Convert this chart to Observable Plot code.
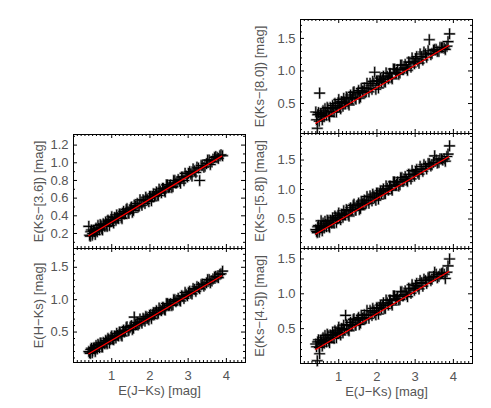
<!DOCTYPE html>
<html><head><meta charset="utf-8">
<script src="https://cdn.jsdelivr.net/npm/d3@7"></script>
<script src="https://cdn.jsdelivr.net/npm/@observablehq/plot@0.6"></script>
<style>
body{margin:0;background:#fff;}
#chart{position:relative;width:491px;height:408px;overflow:hidden;}
.panel{position:absolute;}
</style></head><body><div id="chart"></div>
<script>
// E(J-Ks) shared by all panels (one value per star)
const ejks = [0.40,0.44,0.47,0.50,0.54,0.57,0.61,0.64,0.68,0.72,0.76,0.80,0.84,0.88,0.92,0.96,1.00,1.05,1.09,1.13,1.18,1.22,1.27,1.31,1.36,1.40,1.45,1.50,1.54,1.59,1.64,1.69,1.74,1.79,1.84,1.89,1.94,1.99,2.04,2.09,2.14,2.19,2.24,2.30,2.35,2.40,2.46,2.51,2.57,2.62,2.68,2.74,2.80,2.86,2.92,2.98,3.04,3.10,3.17,3.23,3.30,3.37,3.44,3.51,3.58,3.65,3.72,3.79,3.86,3.90,
  0.42,0.45,0.49,0.52,0.55,0.59,0.62,0.66,0.70,0.74,0.78,0.82,0.86,0.90,0.94,0.98,1.02,1.07,1.11,1.15,1.20,1.25,1.29,1.33,1.38,1.43,1.48,1.52,1.57,1.62,1.67,1.72,1.77,1.82,1.87,1.92,1.97,2.02,2.07,2.12,2.17,2.22,2.27,2.33,2.38,2.43,2.49,2.54,2.60,2.65,2.71,2.77,2.83,2.89,2.95,3.01,3.07,3.13,3.20,3.27,3.34,3.41,3.48,3.55,3.62,3.69,3.76,3.83];
const eKs36 = [0.28,0.17,0.24,0.20,0.24,0.19,0.24,0.29,0.24,0.29,0.24,0.30,0.33,0.28,0.34,0.33,0.39,0.32,0.38,0.41,0.37,0.42,0.37,0.45,0.43,0.48,0.43,0.49,0.44,0.52,0.51,0.50,0.58,0.52,0.57,0.61,0.58,0.62,0.57,0.65,0.64,0.63,0.70,0.66,0.71,0.67,0.75,0.73,0.72,0.80,0.77,0.81,0.77,0.84,0.88,0.84,0.90,0.85,0.91,0.95,0.80,0.97,0.96,1.03,0.98,1.04,1.07,1.05,1.09,1.08,
  0.18,0.22,0.18,0.23,0.22,0.26,0.22,0.26,0.30,0.25,0.31,0.28,0.31,0.35,0.29,0.36,0.34,0.38,0.35,0.38,0.42,0.38,0.43,0.42,0.47,0.43,0.47,0.50,0.46,0.51,0.54,0.51,0.54,0.58,0.54,0.59,0.56,0.62,0.62,0.62,0.67,0.63,0.68,0.71,0.68,0.75,0.72,0.75,0.73,0.80,0.78,0.79,0.84,0.80,0.85,0.88,0.87,0.93,0.89,0.94,0.97,0.95,0.99,1.03,1.01,1.06,1.06,1.08];
const eHKs = [0.20,0.17,0.25,0.21,0.26,0.20,0.26,0.31,0.26,0.33,0.27,0.33,0.37,0.32,0.39,0.38,0.44,0.38,0.44,0.48,0.44,0.50,0.44,0.53,0.52,0.58,0.53,0.59,0.54,0.73,0.62,0.61,0.70,0.64,0.70,0.74,0.71,0.76,0.71,0.80,0.80,0.78,0.87,0.83,0.88,0.84,0.94,0.92,0.91,1.00,0.97,1.02,0.98,1.05,1.11,1.06,1.13,1.09,1.16,1.20,1.17,1.24,1.23,1.31,1.26,1.32,1.36,1.34,1.40,1.44,
  0.18,0.23,0.18,0.25,0.24,0.29,0.24,0.29,0.33,0.27,0.34,0.32,0.35,0.40,0.33,0.42,0.39,0.44,0.41,0.45,0.50,0.45,0.51,0.50,0.57,0.52,0.57,0.60,0.56,0.61,0.65,0.63,0.66,0.71,0.67,0.73,0.69,0.77,0.77,0.77,0.83,0.79,0.84,0.88,0.85,0.94,0.91,0.94,0.92,1.00,0.99,0.99,1.06,1.02,1.08,1.11,1.10,1.17,1.13,1.19,1.23,1.21,1.26,1.31,1.29,1.35,1.35,1.39];
const eKs80 = [0.37,0.12,0.36,0.66,0.35,0.25,0.34,0.42,0.32,0.42,0.30,0.42,0.47,0.37,0.47,0.44,0.56,0.42,0.52,0.58,0.50,0.59,0.48,0.63,0.59,0.68,0.57,0.67,0.58,0.73,0.69,0.67,0.81,0.68,0.78,0.84,0.98,0.85,0.74,0.89,0.87,0.83,0.97,0.88,0.96,0.88,1.03,0.98,0.95,1.09,1.02,1.10,1.01,1.13,1.20,1.11,1.22,1.12,1.22,1.29,1.21,1.48,1.27,1.33,1.30,1.36,1.36,1.33,1.45,1.57,
  0.25,0.33,0.23,0.34,0.31,0.39,0.30,0.37,0.44,0.32,0.44,0.38,0.43,0.50,0.37,0.51,0.45,0.53,0.46,0.52,0.60,0.50,0.59,0.57,0.67,0.58,0.65,0.70,0.60,0.69,0.74,0.68,0.73,0.81,0.72,0.81,0.72,0.85,0.84,0.83,0.92,0.83,0.92,0.96,0.90,1.03,0.97,1.02,0.97,1.09,1.05,1.04,1.14,1.06,1.14,1.19,1.15,1.26,1.17,1.26,1.31,1.25,1.32,1.33,1.30,1.36,1.35,1.38];
const eKs58 = [0.32,0.27,0.39,0.32,0.47,0.30,0.39,0.46,0.37,0.47,0.36,0.47,0.52,0.43,0.53,0.50,0.60,0.49,0.58,0.64,0.57,0.65,0.55,0.69,0.66,0.75,0.65,0.74,0.66,0.80,0.77,0.75,0.88,0.77,0.86,0.92,0.86,0.94,0.84,0.98,0.97,0.93,1.06,0.99,1.06,0.99,1.13,1.09,1.06,1.20,1.14,1.22,1.14,1.25,1.32,1.23,1.34,1.26,1.35,1.42,1.35,1.44,1.42,1.57,1.45,1.52,1.50,1.48,1.60,1.74,
  0.29,0.37,0.28,0.38,0.36,0.43,0.35,0.41,0.48,0.38,0.48,0.43,0.48,0.55,0.44,0.56,0.52,0.58,0.53,0.58,0.66,0.57,0.66,0.64,0.73,0.65,0.72,0.77,0.68,0.76,0.82,0.77,0.81,0.89,0.81,0.89,0.82,0.94,0.93,0.93,1.01,0.93,1.02,1.06,1.01,1.13,1.07,1.13,1.08,1.20,1.17,1.16,1.26,1.18,1.26,1.31,1.28,1.39,1.31,1.39,1.44,1.40,1.46,1.50,1.46,1.52,1.52,1.56];
const eKs45 = [0.28,0.04,0.34,0.14,0.34,0.25,0.33,0.40,0.31,0.40,0.30,0.40,0.45,0.36,0.45,0.43,0.52,0.41,0.50,0.55,0.69,0.55,0.47,0.59,0.56,0.64,0.55,0.64,0.56,0.69,0.66,0.64,0.76,0.65,0.74,0.79,0.73,0.80,0.71,0.84,0.83,0.79,0.91,0.84,0.91,0.84,0.97,0.93,0.91,1.03,0.97,1.04,0.96,1.07,1.13,1.05,1.15,1.07,1.16,1.21,1.15,1.24,1.21,1.31,1.23,1.28,1.30,1.22,1.40,1.50,
  0.24,0.31,0.23,0.32,0.30,0.37,0.29,0.35,0.42,0.32,0.41,0.37,0.41,0.47,0.37,0.48,0.44,0.50,0.44,0.49,0.56,0.48,0.56,0.54,0.63,0.55,0.62,0.66,0.58,0.65,0.70,0.65,0.69,0.76,0.69,0.76,0.70,0.80,0.80,0.79,0.87,0.79,0.87,0.91,0.86,0.97,0.92,0.96,0.92,1.03,0.99,0.99,1.08,1.01,1.08,1.12,1.10,1.19,1.11,1.19,1.23,1.19,1.25,1.28,1.25,1.29,1.28,1.31];
// fitted lines (end points)
const fitX = [0.40, 3.88];
const fitKs36 = [0.174, 1.075];
const fitHKs = [0.166, 1.37];
const fitKs80 = [0.198, 1.39];
const fitKs58 = [0.245, 1.556];
const fitKs45 = [0.20, 1.32];
// axes
const xTicks = [1, 2, 3, 4];
const yTicksKs36 = [0.2, 0.4, 0.6, 0.8, 1.0, 1.2];
const yTicksHalf = [0.5, 1.0, 1.5];
const xLabel = "E(J\u2212Ks) [mag]";
const yLabels = ["E(Ks\u2212[3.6]) [mag]", "E(H\u2212Ks) [mag]", "E(Ks\u2212[8.0]) [mag]", "E(Ks\u2212[5.8]) [mag]", "E(Ks\u2212[4.5]) [mag]"];

const panels = [
  {left:73, top:134, h:114, y:eKs36, fit:fitKs36, domain:[0.03,1.32], ticks:yTicksKs36, label:yLabels[0], xl:false, lo:40},
  {left:73, top:248, h:114, y:eHKs, fit:fitHKs, domain:[0.03,1.79], ticks:yTicksHalf, label:yLabels[1], xl:true, lo:40},
  {left:300, top:19, h:114, y:eKs80, fit:fitKs80, domain:[0.04,1.79], ticks:yTicksHalf, label:yLabels[2], xl:false, lo:46},
  {left:300, top:133, h:115, y:eKs58, fit:fitKs58, domain:[0,1.95], ticks:yTicksHalf, label:yLabels[3], xl:false, lo:46},
  {left:300, top:248, h:115, y:eKs45, fit:fitKs45, domain:[0,1.65], ticks:yTicksHalf, label:yLabels[4], xl:true, lo:46}
];

const W = 172, mL = 60, mR = 14, mT = 6, mB = 44;
const xDomain = [0, 4.5];
const xMinor = d3.range(0, 45).map(i => i / 10).filter(v => !xTicks.includes(v));
const idx = d3.range(ejks.length);
const chart = document.getElementById("chart");

for (const p of panels) {
  const H = p.h;
  const yMinor = d3.range(0, Math.ceil(p.domain[1] * 10) + 1).map(i => i / 10)
    .filter(v => v >= p.domain[0] && v <= p.domain[1] && !p.ticks.some(t => Math.abs(t - v) < 1e-9));
  const fitData = fitX.map((x, i) => ({x, y: p.fit[i]}));
  const marks = [
    Plot.dot(idx, {x: i => ejks[i], y: i => p.y[i], symbol: "plus", r: 3.9, stroke: "#9a9a9a", strokeWidth: 2.2}),
    Plot.dot(idx, {x: i => ejks[i], y: i => p.y[i], symbol: "plus", r: 3.5, stroke: "#000", strokeWidth: 1.1}),
    Plot.line(fitData, {x: "x", y: "y", stroke: "#ff0000", strokeWidth: 1.3}),
    Plot.frame({stroke: "#000"}),
    Plot.tickY(p.ticks, {y: d => d, insetRight: W - 4, stroke: "#000"}),
    Plot.tickY(yMinor, {y: d => d, insetRight: W - 2, stroke: "#000"}),
    Plot.tickY(p.ticks, {y: d => d, insetLeft: W - 4, stroke: "#000"}),
    Plot.tickY(yMinor, {y: d => d, insetLeft: W - 2, stroke: "#000"}),
    Plot.tickX(xTicks, {x: d => d, insetTop: H - 4, stroke: "#000"}),
    Plot.tickX(xMinor, {x: d => d, insetTop: H - 2, stroke: "#000"}),
    Plot.tickX(xTicks, {x: d => d, insetBottom: H - 4, stroke: "#000"}),
    Plot.tickX(xMinor, {x: d => d, insetBottom: H - 2, stroke: "#000"}),
    Plot.axisY(p.ticks, {tickSize: 0, tickPadding: 5, tickFormat: d3.format(".1f"), label: p.label, labelAnchor: "center", labelArrow: "none", labelOffset: p.lo})
  ];
  if (p.xl) {
    marks.push(Plot.axisX(xTicks, {tickSize: 0, tickPadding: 8, tickFormat: d3.format("d"), label: xLabel, labelAnchor: "center", labelArrow: "none", labelOffset: 32}));
  } else {
    marks.push(Plot.axisX([], {label: null}));
  }
  const svg = Plot.plot({
    width: mL + W + mR, height: mT + H + mB,
    marginLeft: mL, marginRight: mR, marginTop: mT, marginBottom: mB,
    x: {domain: xDomain},
    y: {domain: p.domain},
    style: {background: "transparent", overflow: "visible", fontFamily: "'Liberation Sans', Arial, sans-serif", fontSize: "13px", color: "#555"},
    marks
  });
  const div = document.createElement("div");
  div.className = "panel";
  div.style.left = (p.left - mL) + "px";
  div.style.top = (p.top - mT) + "px";
  div.appendChild(svg);
  chart.appendChild(div);
}
</script></body></html>
